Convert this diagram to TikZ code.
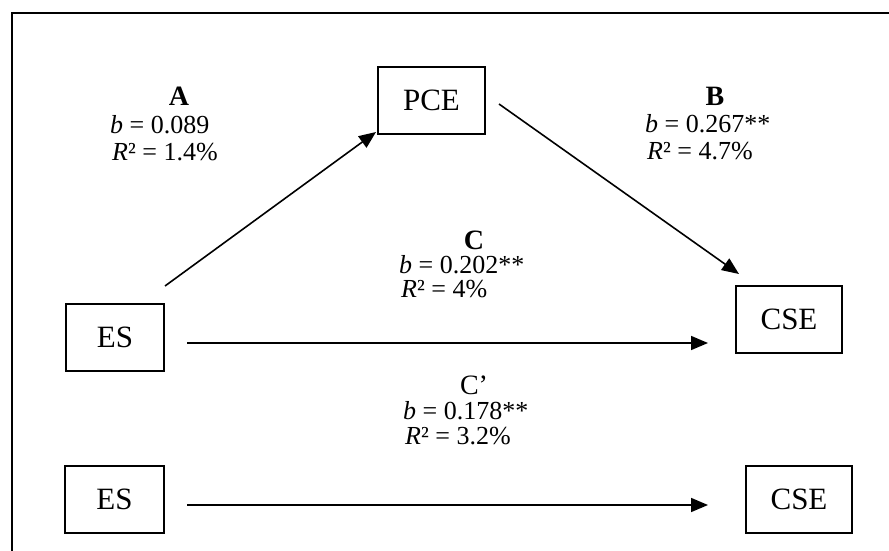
\documentclass[tikz,border=0pt]{standalone}
\usepackage{fontspec}
\setmainfont{Liberation Serif}
\usetikzlibrary{arrows.meta,calc}
\begin{document}
\begin{tikzpicture}[x=1pt,y=-1pt,
  box/.style={draw, line width=2pt, minimum width=#1, minimum height=67pt, inner sep=0pt, font=\fontsize{31}{31}\selectfont},
  lbl/.style={inner sep=0pt, font=\fontsize{26}{26}\selectfont},
  hdr/.style={inner sep=0pt, anchor=base, font=\fontsize{28}{28}\selectfont\bfseries},
  hdrplain/.style={inner sep=0pt, anchor=base, font=\fontsize{28}{28}\selectfont},
  ln/.style={lbl, anchor=base west},
  arr/.style={line width=1.6pt, -{Triangle[length=17pt,width=14pt]}},
  frameline/.style={line width=2pt}]
\useasboundingbox (0,0) rectangle (889,551);
% frame
\coordinate (fbl) at (12,552);
\coordinate (ftl) at (12,13);
\coordinate (ftr) at (890,13);
\draw[frameline] (fbl) -- (ftl) -- (ftr);
% boxes
\node[box=107pt] (pce)  at (431.5,100.5) {PCE};
\node[box=98pt]  (es1)  at (115,337.5) {ES};
\node[box=106pt] (cse1) at (789,319.5) {CSE};
\node[box=99pt]  (es2)  at (114.5,499.5) {ES};
\node[box=106pt] (cse2) at (799,499) {CSE};
% arrows
\draw[arr] ($(es1.north east)+(0,-17)$) -- ($(pce.south west)+(-1,-3)$);
\draw[arr] ($(pce.east)+(13,3.5)$) -- ($(cse1.north west)+(4,-11)$);
\draw[arr] ($(es1.east)+(22,5.5)$) -- ($(es1.east -| cse1.west)+(-27,5.5)$);
\draw[arr] ($(es2.east)+(22,5.5)$) -- ($(es2.east -| cse2.west)+(-37,5.5)$);
% label A
\node[hdr] (ah) at (179,106) {A};
\node[ln] (ab) at (110,133) {{\itshape b} = 0.089};
\node[ln] (ar) at (112,160) {{\itshape R}² = 1.4\%};
% label B
\node[hdr] (bh) at (715,105) {B};
\node[ln] (bb) at (645,132) {{\itshape b} = 0.267**};
\node[ln] (br) at (647,159) {{\itshape R}² = 4.7\%};
% label C
\node[hdr] (ch) at (474,249) {C};
\node[ln] (cb) at (399,273) {{\itshape b} = 0.202**};
\node[ln] (cr) at (401,297) {{\itshape R}² = 4\%};
% label C'
\node[hdrplain] (dh) at (474,394) {C’};
\node[ln] (db) at (403,419) {{\itshape b} = 0.178**};
\node[ln] (dr) at (405,444) {{\itshape R}² = 3.2\%};
\end{tikzpicture}
\end{document}
